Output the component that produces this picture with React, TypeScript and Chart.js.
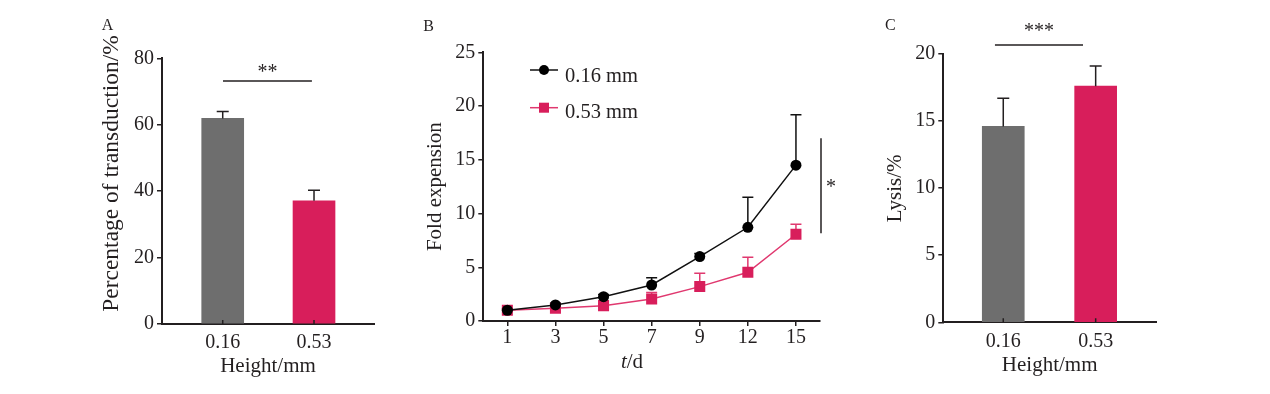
import React, { useEffect, useRef } from "react";
import { Chart, registerables } from "chart.js";

Chart.register(...registerables);

// ---------- data ----------
const heightLabels = ["0.16", "0.53"];
const transductionMean = [61.9, 37.1];
const transductionErr = [2.1, 3.2];
const lysisMean = [14.6, 17.6];
const lysisErr = [2.1, 1.5];

const dayLabels = ["1", "3", "5", "7", "9", "12", "15"];
const fold016 = [1.0, 1.49, 2.26, 3.35, 5.99, 8.72, 14.5];
const fold016Err = [0.1, 0.15, 0.2, 0.68, 0.3, 2.8, 4.7];
const fold053 = [1.0, 1.18, 1.43, 2.05, 3.2, 4.53, 8.07];
const fold053Err = [0.15, 0.1, 0.15, 0.6, 1.24, 1.4, 0.93];
const seriesLabels = ["0.16 mm", "0.53 mm"];

// ---------- style ----------
const INK = "#231f20";
const GRAY = "#6e6e6e";
const PINK = "#d81e5b";
const PINK_LINE = "#e0386f";
const SERIF = "'Liberation Serif', 'Times New Roman', serif";

function drawPanelLetter(ctx: CanvasRenderingContext2D, letter: string, x: number, y: number) {
  ctx.save();
  ctx.fillStyle = INK;
  ctx.font = `16px ${SERIF}`;
  ctx.textAlign = "left";
  ctx.textBaseline = "alphabetic";
  ctx.fillText(letter, x, y);
  ctx.restore();
}

type YTitle = { text: string; size: number; x: number; y: number };

function barOptions(opts: {
  yMax: number;
  yStep: number;
  xMin: number;
  xMax: number;
  padding: any;
  yWidth: number;
  xHeight: number;
}) {
  return {
    responsive: false,
    animation: false as const,
    devicePixelRatio: 1,
    layout: { padding: opts.padding },
    plugins: { legend: { display: false }, tooltip: { enabled: false } },
    scales: {
      x: {
        type: "linear" as const,
        min: opts.xMin,
        max: opts.xMax,
        offset: false,
        bounds: "data" as const,
        afterBuildTicks: (s: any) => {
          s.ticks = heightLabels.map((_, i) => ({ value: i + 1 }));
        },
        afterFit: (s: any) => {
          s.height = opts.xHeight;
        },
        ticks: {
          autoSkip: false,
          padding: 7,
          color: INK,
          font: { family: SERIF, size: 20 },
          callback: (v: any) => heightLabels[Math.round(Number(v)) - 1] ?? "",
        },
        grid: { drawOnChartArea: false, drawTicks: false, offset: false },
        border: { display: true, color: INK, width: 2 },
        title: {
          display: true,
          text: "Height/mm",
          color: INK,
          font: { family: SERIF, size: 21 },
        },
      },
      y: {
        min: 0,
        max: opts.yMax,
        afterFit: (s: any) => {
          s.width = opts.yWidth;
        },
        ticks: {
          stepSize: opts.yStep,
          padding: 3,
          color: INK,
          font: { family: SERIF, size: 20 },
        },
        grid: { drawOnChartArea: false, drawTicks: true, tickLength: 5, color: INK, lineWidth: 1.5 },
        border: { display: true, color: INK, width: 2 },
      },
    },
  };
}

function barExtrasPlugin(
  means: number[],
  errs: number[],
  letter: string,
  letterPos: [number, number],
  yTitle: YTitle,
  sig: { x0: number; x1: number; y: number; text: string; textY: number }
) {
  return {
    id: "barExtras",
    afterDatasetsDraw(chart: any) {
      const { ctx, chartArea } = chart;
      const x = chart.scales.x;
      const y = chart.scales.y;
      const meta = chart.getDatasetMeta(0);
      ctx.save();
      ctx.strokeStyle = INK;
      ctx.lineWidth = 1.5;
      meta.data.forEach((bar: any, i: number) => {
        const px = bar.x;
        const top = y.getPixelForValue(means[i] + errs[i]);
        ctx.beginPath();
        ctx.moveTo(px, bar.y);
        ctx.lineTo(px, top);
        ctx.moveTo(px - 6, top);
        ctx.lineTo(px + 6, top);
        // inward tick on the x axis
        ctx.moveTo(px, chartArea.bottom);
        ctx.lineTo(px, chartArea.bottom - 4);
        ctx.stroke();
      });
      // significance bracket
      const sy = y.getPixelForValue(sig.y);
      ctx.lineWidth = 1.5;
      ctx.beginPath();
      ctx.moveTo(x.getPixelForValue(sig.x0), sy);
      ctx.lineTo(x.getPixelForValue(sig.x1), sy);
      ctx.stroke();
      ctx.fillStyle = INK;
      ctx.font = `20px ${SERIF}`;
      ctx.textAlign = "center";
      ctx.textBaseline = "middle";
      ctx.fillText(
        sig.text,
        x.getPixelForValue((sig.x0 + sig.x1) / 2),
        y.getPixelForValue(sig.textY) + 4
      );
      // y-axis title
      ctx.save();
      ctx.translate(yTitle.x, yTitle.y);
      ctx.rotate(-Math.PI / 2);
      ctx.font = `${yTitle.size}px ${SERIF}`;
      ctx.textAlign = "center";
      ctx.textBaseline = "middle";
      ctx.fillText(yTitle.text, 0, 0);
      ctx.restore();
      ctx.restore();
      drawPanelLetter(ctx, letter, letterPos[0], letterPos[1]);
    },
  };
}

function BarPanel(props: {
  left: number;
  width: number;
  means: number[];
  errs: number[];
  yMax: number;
  yStep: number;
  yTitle: YTitle;
  xMin: number;
  xMax: number;
  padding: any;
  yWidth: number;
  xHeight: number;
  letter: string;
  letterPos: [number, number];
  sig: { x0: number; x1: number; y: number; text: string; textY: number };
}) {
  const ref = useRef<HTMLCanvasElement>(null);
  useEffect(() => {
    if (!ref.current) return;
    const chart = new Chart(ref.current, {
      type: "bar",
      data: {
        datasets: [
          {
            data: props.means.map((v, i) => ({ x: i + 1, y: v })),
            backgroundColor: [GRAY, PINK],
            borderWidth: 0,
            barThickness: 42,
          } as any,
        ],
      },
      options: barOptions(props) as any,
      plugins: [
        barExtrasPlugin(props.means, props.errs, props.letter, props.letterPos, props.yTitle, props.sig),
      ],
    });
    return () => chart.destroy();
  }, []);
  return (
    <canvas
      ref={ref}
      width={props.width}
      height={394}
      style={{ position: "absolute", left: props.left, top: 0, width: props.width, height: 394 }}
    />
  );
}

function LinePanel() {
  const ref = useRef<HTMLCanvasElement>(null);
  useEffect(() => {
    if (!ref.current) return;
    const errs = [fold016Err, fold053Err];
    const vals = [fold016, fold053];
    const colors = ["#111111", PINK_LINE];
    const extras = {
      id: "lineExtras",
      beforeDatasetsDraw(chart: any) {
        const { ctx } = chart;
        const y = chart.scales.y;
        ctx.save();
        ctx.lineWidth = 1.5;
        [1, 0].forEach((d) => {
          const meta = chart.getDatasetMeta(d);
          ctx.strokeStyle = colors[d];
          meta.data.forEach((pt: any, i: number) => {
            const top = y.getPixelForValue(vals[d][i] + errs[d][i]);
            ctx.beginPath();
            ctx.moveTo(pt.x, pt.y);
            ctx.lineTo(pt.x, top);
            ctx.moveTo(pt.x - 5.5, top);
            ctx.lineTo(pt.x + 5.5, top);
            ctx.stroke();
          });
        });
        ctx.restore();
      },
      afterDatasetsDraw(chart: any) {
        const { ctx, chartArea } = chart;
        const y = chart.scales.y;
        ctx.save();
        // significance line
        ctx.strokeStyle = INK;
        ctx.lineWidth = 1.5;
        ctx.beginPath();
        ctx.moveTo(chartArea.right + 1, y.getPixelForValue(17.0));
        ctx.lineTo(chartArea.right + 1, y.getPixelForValue(8.17));
        ctx.stroke();
        ctx.fillStyle = INK;
        ctx.font = `20px ${SERIF}`;
        ctx.textAlign = "center";
        ctx.textBaseline = "middle";
        ctx.fillText("*", chartArea.right + 11, y.getPixelForValue(12.8) + 4);

        // legend
        const rows = [
          { y: 70, baseline: 81.7 },
          { y: 107.7, baseline: 118.3 },
        ];
        rows.forEach((r, d) => {
          ctx.strokeStyle = colors[d];
          ctx.lineWidth = 1.5;
          ctx.beginPath();
          ctx.moveTo(130, r.y);
          ctx.lineTo(158, r.y);
          ctx.stroke();
          ctx.fillStyle = d === 0 ? "#000000" : PINK;
          if (d === 0) {
            ctx.beginPath();
            ctx.arc(144, r.y, 5, 0, Math.PI * 2);
            ctx.fill();
          } else {
            ctx.fillRect(139, r.y - 5, 10, 10);
          }
          ctx.fillStyle = INK;
          ctx.font = `20.5px ${SERIF}`;
          ctx.textAlign = "left";
          ctx.textBaseline = "alphabetic";
          ctx.fillText(chart.data.datasets[d].label, 165, r.baseline);
        });

        // x-axis title: italic t + "/d"
        ctx.font = `italic 21px ${SERIF}`;
        const w1 = ctx.measureText("t").width;
        ctx.font = `21px ${SERIF}`;
        const w2 = ctx.measureText("/d").width;
        const cx = 232;
        const startX = cx - (w1 + w2) / 2;
        ctx.textBaseline = "middle";
        ctx.textAlign = "left";
        ctx.font = `italic 21px ${SERIF}`;
        ctx.fillText("t", startX, 362);
        ctx.font = `21px ${SERIF}`;
        ctx.fillText("/d", startX + w1, 362);
        ctx.restore();
        drawPanelLetter(ctx, "B", 23.3, 30.7);
      },
    };
    const chart = new Chart(ref.current, {
      type: "line",
      data: {
        labels: dayLabels,
        datasets: [
          {
            label: seriesLabels[0],
            data: fold016,
            borderColor: "#111111",
            borderWidth: 1.5,
            pointStyle: "circle",
            pointRadius: 5.5,
            pointBackgroundColor: "#000000",
            pointBorderWidth: 0,
            tension: 0,
          },
          {
            label: seriesLabels[1],
            data: fold053,
            borderColor: PINK_LINE,
            borderWidth: 1.5,
            pointStyle: "rect",
            pointRadius: 7.8,
            pointBackgroundColor: PINK,
            pointBorderWidth: 0,
            tension: 0,
          },
        ],
      },
      options: {
        responsive: false,
        animation: false,
        devicePixelRatio: 1,
        layout: { padding: { left: 18.4, right: 40, top: 52.3, bottom: 13 } },
        plugins: { legend: { display: false }, tooltip: { enabled: false } },
        scales: {
          x: {
            type: "category",
            offset: true,
            afterFit: (s: any) => {
              s.height = 394 - 13 - 321;
            },
            ticks: { padding: 0, color: INK, font: { family: SERIF, size: 20 }, autoSkip: false },
            grid: { drawOnChartArea: false, drawTicks: true, tickLength: 5, color: INK, lineWidth: 1.5, offset: false },
            border: { display: true, color: INK, width: 2 },
          },
          y: {
            min: 0,
            max: 25,
            afterFit: (s: any) => {
              s.width = 64.9;
            },
            ticks: { stepSize: 5, padding: 3, color: INK, font: { family: SERIF, size: 20 } },
            grid: { drawOnChartArea: false, drawTicks: true, tickLength: 5, color: INK, lineWidth: 1.5 },
            border: { display: true, color: INK, width: 2 },
            title: {
              display: true,
              text: "Fold expension",
              color: INK,
              font: { family: SERIF, size: 21 },
            },
          },
        },
      } as any,
      plugins: [extras],
    });
    return () => chart.destroy();
  }, []);
  return (
    <canvas
      ref={ref}
      width={460}
      height={394}
      style={{ position: "absolute", left: 400, top: 0, width: 460, height: 394 }}
    />
  );
}

export default function App() {
  return (
    <div style={{ position: "absolute", left: 0, top: 0, width: 1270, height: 394, background: "#ffffff", overflow: "hidden" }}>
      <BarPanel
        left={0}
        width={400}
        means={transductionMean}
        errs={transductionErr}
        yMax={80}
        yStep={20}
        yTitle={{ text: "Percentage of transduction/%", size: 23.5, x: 111.7, y: 173.5 }}
        xMin={0.335}
        xMax={2.657}
        padding={{ left: 94.5, right: 26, top: 58.3, bottom: 10.7 }}
        yWidth={67.5}
        xHeight={59.3}
        letter="A"
        letterPos={[101.7, 30]}
        sig={{ x0: 1.003, x1: 1.977, y: 73.2, text: "**", textY: 76.8 }}
      />
      <LinePanel />
      <BarPanel
        left={860}
        width={410}
        means={lysisMean}
        errs={lysisErr}
        yMax={20}
        yStep={5}
        yTitle={{ text: "Lysis/%", size: 21, x: 35, y: 188.3 }}
        xMin={0.351}
        xMax={2.653}
        padding={{ left: 18.4, right: 114, top: 54, bottom: 12.4 }}
        yWidth={64.9}
        xHeight={59.3}
        letter="C"
        letterPos={[25, 30]}
        sig={{ x0: 0.91, x1: 1.863, y: 20.67, text: "***", textY: 21.93 }}
      />
    </div>
  );
}
